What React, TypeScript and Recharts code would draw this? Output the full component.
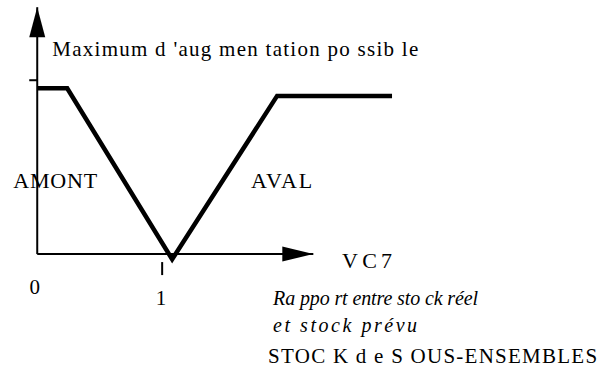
import React from "react";
import { ComposedChart, Line, XAxis, YAxis, ReferenceLine, ReferenceDot } from "recharts";

// ratio stock réel / stock prévu vs. maximum d'augmentation possible
const ratio = [0, 0.24, 1.08, 1.92, 2.84];
const maxIncrease = [0.954, 0.954, -0.03, 0.91, 0.91];
const curve = ratio.map((x, i) => ({ x, y: maxIncrease[i] }));

const xTicks = [0, 1];
const xTickLabels = ["0", "1"];
const yTicks = [1];

const xAxisEnd = 2.21;
const yAxisEnd = 1.42;

const FONT = '"Liberation Serif", "DejaVu Serif", serif';

type Note = { text: string; x: number; y: number; size: number; width: number; italic?: boolean };

const notes: Note[] = [
  { text: "Maximum d 'aug men tation po ssib le", x: 0.12, y: 1.138, size: 21, width: 366 },
  { text: "AMONT", x: -0.192, y: 0.379, size: 22, width: 84 },
  { text: "AVAL", x: 1.712, y: 0.379, size: 22, width: 61 },
  { text: "VC7", x: 2.44, y: -0.08, size: 22, width: 50 },
  { text: "Ra ppo rt entre sto ck réel", x: 1.888, y: -0.293, size: 20, width: 205, italic: true },
  { text: "et stock prévu", x: 1.888, y: -0.448, size: 20, width: 144, italic: true },
  { text: "STOC K d e S OUS-ENSEMBLES", x: 1.848, y: -0.626, size: 21, width: 329 },
];

const tickLabelPos = [
  { x: -0.02, y: -0.23 },
  { x: 0.99, y: -0.293 },
];

const textShape = (n: Note) => (p: any) => (
  <text
    x={p.cx}
    y={p.cy}
    style={{ fontFamily: FONT, fontSize: n.size, fontStyle: n.italic ? "italic" : "normal" }}
    textLength={n.width}
    lengthAdjust="spacing"
    fill="#000"
  >
    {n.text}
  </text>
);

export default function App() {
  return (
    <div style={{ position: "absolute", left: 0, top: 0, background: "#fff", fontFamily: FONT }}>
      <ComposedChart width={605} height={382} data={curve} margin={{ top: 2, right: 168, bottom: 41, left: 6 }}>
        <XAxis dataKey="x" type="number" domain={[-0.25, 3.2]} allowDataOverflow hide />
        <YAxis type="number" domain={[-0.5, 1.45]} allowDataOverflow hide />

        <ReferenceLine segment={[{ x: 0, y: 0 }, { x: 0, y: yAxisEnd }]} stroke="#000" strokeWidth={2} ifOverflow="visible" />
        <ReferenceLine segment={[{ x: 0, y: 0 }, { x: xAxisEnd, y: 0 }]} stroke="#000" strokeWidth={2} ifOverflow="visible" />

        <ReferenceDot
          x={0}
          y={yAxisEnd}
          ifOverflow="visible"
          shape={(p: any) => (
            <polygon points={`${p.cx},${p.cy} ${p.cx - 8},${p.cy + 30} ${p.cx + 8},${p.cy + 30}`} fill="#000" />
          )}
        />
        <ReferenceDot
          x={xAxisEnd}
          y={0}
          ifOverflow="visible"
          shape={(p: any) => (
            <polygon points={`${p.cx},${p.cy} ${p.cx - 31},${p.cy - 7.5} ${p.cx - 31},${p.cy + 7.5}`} fill="#000" />
          )}
        />

        {yTicks.map((t) => (
          <ReferenceDot
            key={`yt-${t}`}
            x={0}
            y={t}
            ifOverflow="visible"
            shape={(p: any) => <line x1={p.cx - 8} y1={p.cy} x2={p.cx} y2={p.cy} stroke="#000" strokeWidth={2} />}
          />
        ))}
        {xTicks.filter((t) => t !== 0).map((t) => (
          <ReferenceDot
            key={`xt-${t}`}
            x={t}
            y={0}
            ifOverflow="visible"
            shape={(p: any) => <line x1={p.cx} y1={p.cy + 8} x2={p.cx} y2={p.cy + 21} stroke="#000" strokeWidth={2} />}
          />
        ))}

        {xTickLabels.map((lab, i) => (
          <ReferenceDot
            key={`xl-${i}`}
            x={tickLabelPos[i].x}
            y={tickLabelPos[i].y}
            ifOverflow="visible"
            shape={(p: any) => (
              <text x={p.cx} y={p.cy} style={{ fontFamily: FONT, fontSize: 21 }} textAnchor="middle" fill="#000">
                {lab}
              </text>
            )}
          />
        ))}

        <Line
          dataKey="y"
          type="linear"
          stroke="#000"
          strokeWidth={4.5}
          strokeLinejoin="miter"
          dot={false}
          activeDot={false}
          isAnimationActive={false}
        />

        {notes.map((n, i) => (
          <ReferenceDot key={`n-${i}`} x={n.x} y={n.y} ifOverflow="visible" shape={textShape(n)} />
        ))}
      </ComposedChart>
    </div>
  );
}
